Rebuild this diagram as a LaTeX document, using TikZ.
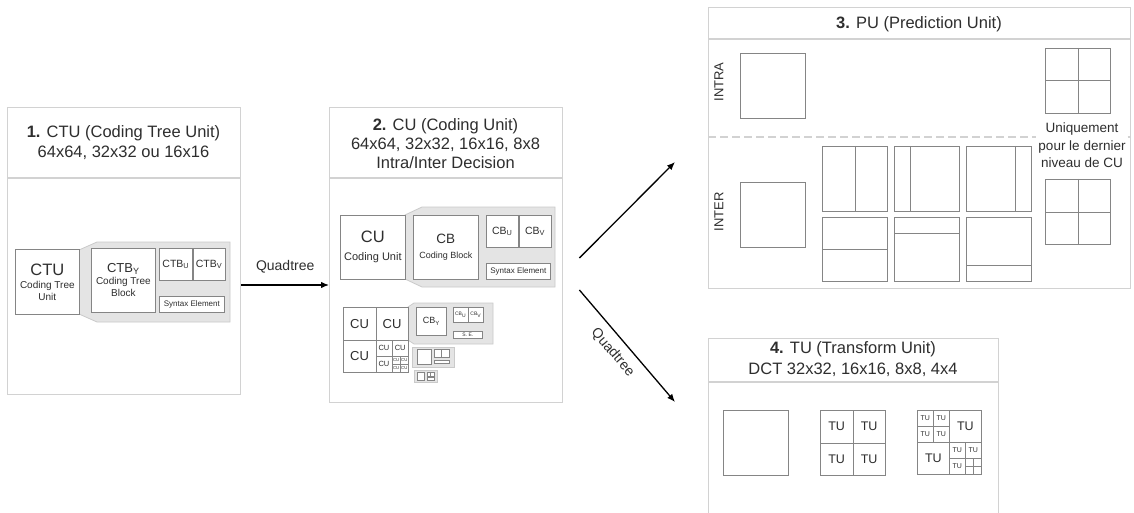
\documentclass[tikz,border=0pt]{standalone}
\usepackage{fontspec}
\setmainfont{Liberation Sans}
\usetikzlibrary{arrows.meta, positioning, calc}
\definecolor{panelgray}{HTML}{D2D2D2}
\definecolor{linegray}{HTML}{858585}
\definecolor{backfill}{HTML}{E4E4E4}
\definecolor{backline}{HTML}{CACACA}
\definecolor{txtgray}{HTML}{2E2E2E}

\begin{document}
\begin{tikzpicture}[
    x=1pt, y=-1pt,
    panel/.style={rectangle, draw=panelgray, line width=1.4pt, fill=white,
                  inner sep=0pt, anchor=north west},
    panelrule/.style={draw=panelgray, line width=1.4pt},
    box/.style={rectangle, draw=linegray, line width=0.7pt, fill=white,
                inner sep=0pt, anchor=north west, align=center, text=txtgray},
    divider/.style={draw=linegray, line width=0.7pt},
    greyback/.style={draw=backline, fill=backfill, line width=0.8pt},
    heading/.style={align=center, text=txtgray, font=\fontsize{16.5}{20}\selectfont},
    sidelbl/.style={rotate=90, text=txtgray, font=\fontsize{13}{15}\selectfont},
    quadfont/.style={text=txtgray, font=\fontsize{14}{16}\selectfont},
    arr/.style={-{Latex[length=8pt,width=6.5pt]}, line width=1.3pt},
]
\useasboundingbox (0,0) rectangle (1134,513);

%% 1. CTU
\node[panel, minimum width=233pt, minimum height=287pt] (ctupanel) at (7,107) {};
\draw[panelrule] (ctupanel.west |- 0,178) -- (ctupanel.east |- 0,178);
\node[heading] (ctutitle) at (123.5,143) {\textbf{1.} CTU (Coding Tree Unit)\\64x64, 32x32 ou 16x16};
\draw[greyback] (79,250) -- (97,242) -- (230,242) -- (230,322) -- (97,322) -- (79,314) -- cycle;
\node[box, minimum width=64pt, minimum height=65pt, font=\fontsize{10}{12}\selectfont]
    (ctu) at (15,249) {{\fontsize{16.5}{18}\selectfont CTU}\\[1pt]Coding Tree\\Unit};
\node[box, minimum width=64pt, minimum height=64pt, font=\fontsize{10}{12}\selectfont]
    (ctby) at (91,248) {{\fontsize{13}{15}\selectfont CTB\textsubscript{Y}}\\Coding Tree\\Block};
\node[box, minimum width=33pt, minimum height=32pt, font=\fontsize{10.5}{12}\selectfont]
    (ctbu) at (159,248) {CTB\textsubscript{U}};
\node[box, minimum width=32pt, minimum height=32pt, font=\fontsize{10.5}{12}\selectfont]
    (ctbv) at (ctbu.north east) {CTB\textsubscript{V}};
\node[box, minimum width=65pt, minimum height=16pt, font=\fontsize{8}{9}\selectfont]
    (ctbse) at (159,296) {Syntax Element};

%% 2. CU
\node[panel, minimum width=233pt, minimum height=295pt] (cupanel) at (329,107) {};
\draw[panelrule] (cupanel.west |- 0,178) -- (cupanel.east |- 0,178);
\node[heading, font=\fontsize{16.5}{19}\selectfont] (cutitle) at (445.5,144)
    {\textbf{2.} CU (Coding Unit)\\64x64, 32x32, 16x16, 8x8\\Intra/Inter Decision};
\draw[greyback] (405,215) -- (422,207) -- (555,207) -- (555,287) -- (422,287) -- (405,279) -- cycle;
\node[box, minimum width=65pt, minimum height=64pt, font=\fontsize{11}{13}\selectfont]
    (cu) at (340,215) {{\fontsize{16.5}{18}\selectfont CU}\\[5pt]Coding Unit};
\node[box, minimum width=65pt, minimum height=64pt, font=\fontsize{9}{11}\selectfont]
    (cb) at (413,215) {{\fontsize{13.5}{15}\selectfont CB}\\[4pt]Coding Block};
\node[box, minimum width=32pt, minimum height=32pt, font=\fontsize{10.5}{12}\selectfont]
    (cbu) at (486,215) {CB\textsubscript{U}};
\node[box, minimum width=32pt, minimum height=32pt, font=\fontsize{10.5}{12}\selectfont]
    (cbv) at (cbu.north east) {CB\textsubscript{V}};
\node[box, minimum width=64pt, minimum height=16pt, font=\fontsize{8}{9}\selectfont]
    (cbse) at (486,263) {Syntax Element};

%% CU quadtree split
\draw[greyback] (408,307) -- (414,303) -- (493,303) -- (493,344) -- (414,344) -- (408,340) -- cycle;
\foreach \i/\j in {0/0, 1/0, 0/1}
    \node[box, minimum size=32.5pt, font=\fontsize{13}{15}\selectfont]
        (cuq-\i\j) at ({343+32.5*\i},{307+32.5*\j}) {CU};
\foreach \i/\j in {0/0, 1/0, 0/1}
    \node[box, minimum size=16.25pt, font=\fontsize{7.5}{8}\selectfont]
        (cus-\i\j) at ({375.5+16.25*\i},{339.5+16.25*\j}) {CU};
\foreach \i in {0,1}
    \foreach \j in {0,1}
        \node[box, minimum size=8.125pt, font=\fontsize{4.3}{5}\selectfont]
            (cut-\i\j) at ({391.75+8.125*\i},{355.75+8.125*\j}) {CU};
\node[box, minimum width=30pt, minimum height=28pt, font=\fontsize{9}{10}\selectfont]
    (cby) at (416,307) {CB\textsubscript{Y}};
\node[box, minimum width=14.5pt, minimum height=15pt, font=\fontsize{5}{6}\selectfont]
    (cbus) at (453,307) {CB\textsubscript{U}};
\node[box, minimum width=14.5pt, minimum height=15pt, font=\fontsize{5}{6}\selectfont]
    (cbvs) at (cbus.north east) {CB\textsubscript{V}};
\node[box, minimum width=29pt, minimum height=7pt, font=\fontsize{5}{6}\selectfont]
    (cbses) at (453,331) {S. E.};
\draw[greyback] (412,347) rectangle (454,367);
\draw[divider, fill=white] (417,349) rectangle (431,364);
\draw[divider, fill=white] (434,349) rectangle (449,357);
\draw[divider] (441.5,349) -- (441.5,357);
\draw[divider, fill=white] (434,360) rectangle (449,363.5);
\draw[greyback] (414,370) rectangle (437,382);
\draw[divider, fill=white] (417,372) rectangle (424.5,380);
\draw[divider, fill=white] (427,372) rectangle (434.5,376);
\draw[divider] (430.7,372) -- (430.7,376);
\draw[divider, fill=white] (427,377.5) rectangle (434.5,380);

%% 3. PU
\node[panel, minimum width=422pt, minimum height=281pt] (pupanel) at (708,7) {};
\draw[panelrule] (pupanel.west |- 0,39) -- (pupanel.east |- 0,39);
\node[heading] (putitle) at (919,24) {\textbf{3.} PU (Prediction Unit)};
\node[sidelbl] (intralbl) at (719,82) {INTRA};
\node[sidelbl] (interlbl) at (719,212) {INTER};
\node[align=center, text=txtgray, font=\fontsize{13.5}{17.5}\selectfont, inner sep=2pt]
    (uniq) at (1082,145.5) {Uniquement\\pour le dernier\\niveau de CU};
\draw[panelrule, dashed, dash pattern=on 8pt off 4pt] (pupanel.west |- 0,137) -- (uniq.west |- 0,137);
\draw[panelrule, dashed, dash pattern=on 8pt off 4pt] (uniq.east |- 0,137) -- (pupanel.east |- 0,137);
\node[box, minimum size=65pt] (intra) at (740,53) {};
\node[box, minimum size=65pt] (intraq) at (1045,48) {};
\draw[divider] (intraq.north) -- (intraq.south);
\draw[divider] (intraq.west) -- (intraq.east);
\node[box, minimum size=65pt] (inter) at (740,182) {};
\node[box, minimum size=65pt] (interq) at (1045,179) {};
\draw[divider] (interq.north) -- (interq.south);
\draw[divider] (interq.west) -- (interq.east);
\foreach \nm/\xx/\fr in {vhalf/822/0.5, vleft/894/0.25, vright/966/0.75} {
    \node[box, minimum width=65pt, minimum height=65pt] (\nm) at (\xx,146) {};
    \draw[divider] ($(\nm.north west)!\fr!(\nm.north east)$) -- ($(\nm.south west)!\fr!(\nm.south east)$);
}
\foreach \nm/\xx/\fr in {hhalf/822/0.5, htop/894/0.25, hbot/966/0.75} {
    \node[box, minimum width=65pt, minimum height=64pt] (\nm) at (\xx,217) {};
    \draw[divider] ($(\nm.north west)!\fr!(\nm.south west)$) -- ($(\nm.north east)!\fr!(\nm.south east)$);
}

%% 4. TU
\node[panel, minimum width=290pt, minimum height=200pt] (tupanel) at (708,338) {};
\draw[panelrule] (tupanel.west |- 0,382) -- (tupanel.east |- 0,382);
\node[heading, font=\fontsize{16.5}{21}\selectfont] (tutitle) at (853,359)
    {\textbf{4.} TU (Transform Unit)\\DCT 32x32, 16x16, 8x8, 4x4};
\node[box, minimum size=65pt] (tufull) at (723,410) {};
\foreach \i in {0,1}
    \foreach \j in {0,1}
        \node[box, minimum size=32.5pt, font=\fontsize{12.5}{14}\selectfont]
            (tuq-\i\j) at ({820+32.5*\i},{410+32.5*\j}) {TU};
\foreach \i/\j in {1/0, 0/1}
    \node[box, minimum size=32pt, font=\fontsize{12.5}{14}\selectfont]
        (tum-\i\j) at ({917+32*\i},{410+32*\j}) {TU};
\foreach \i in {0,1}
    \foreach \j in {0,1}
        \node[box, minimum size=16pt, font=\fontsize{7}{8}\selectfont]
            (tua-\i\j) at ({917+16*\i},{410+16*\j}) {TU};
\foreach \i/\j in {0/0, 1/0, 0/1}
    \node[box, minimum size=16pt, font=\fontsize{7}{8}\selectfont]
        (tub-\i\j) at ({949+16*\i},{442+16*\j}) {TU};
\foreach \i in {0,1}
    \foreach \j in {0,1}
        \node[box, minimum size=8pt] (tuc-\i\j) at ({965+8*\i},{458+8*\j}) {};

%% Arrows
\draw[arr] (ctupanel.east |- 0,285) -- node[above=8pt, quadfont] (quadlbl) {Quadtree} (cupanel.west |- 0,285);
\coordinate (forktop) at ($(cupanel.east |- 0,258)+(16,0)$);
\coordinate (forkbot) at ($(cupanel.east |- 0,290)+(16,0)$);
\coordinate (puend) at ($(pupanel.west |- 0,162)+(-33,0)$);
\coordinate (tuend) at ($(tupanel.west |- 0,402)+(-33,0)$);
\draw[arr] (forktop) -- (puend);
\draw[arr] (forkbot) -- node[pos=0.47, sloped, below=5pt, quadfont] (quadlbl2) {Quadtree} (tuend);
\end{tikzpicture}
\end{document}
